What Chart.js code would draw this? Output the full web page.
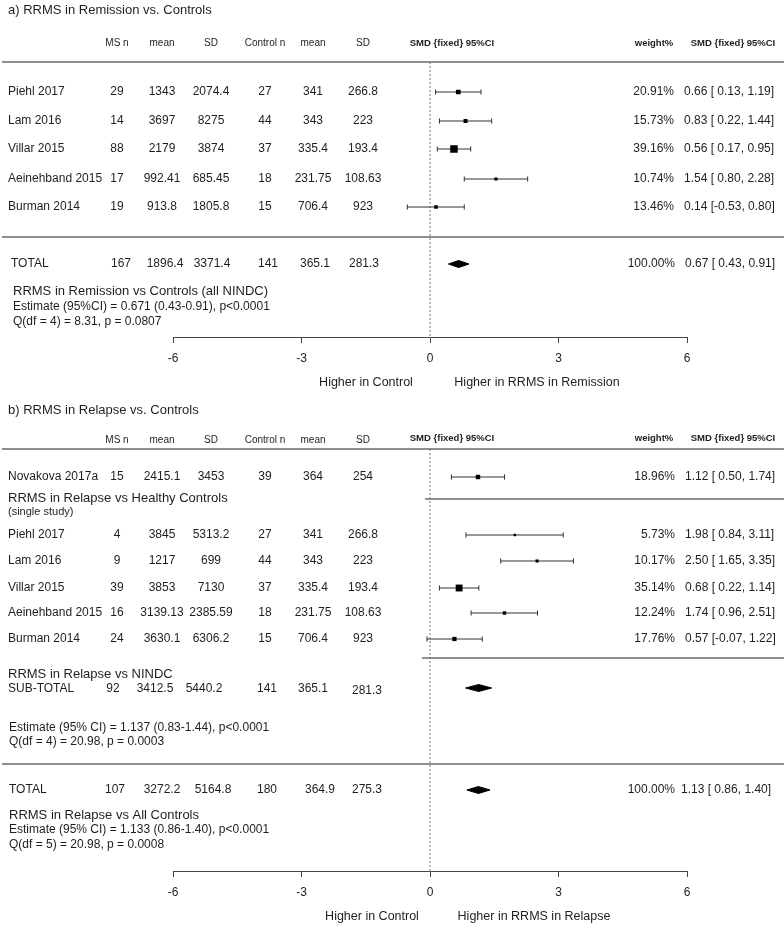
<!DOCTYPE html>
<html>
<head>
<meta charset="utf-8">
<script src="https://cdn.jsdelivr.net/npm/chart.js@4.4.1/dist/chart.umd.min.js"></script>
<style>
html,body{margin:0;padding:0;background:#fff;}
canvas{display:block;}
</style>
</head>
<body>
<canvas id="chartA" width="784" height="395"></canvas>
<canvas id="chartB" width="784" height="534"></canvas>
<script>
// ---------------- DATA ----------------
const tickValuesX = [-6, -3, 0, 3, 6];
const headersLeft = ['MS n', 'mean', 'SD', 'Control n', 'mean', 'SD'];
const headersRight = ['SMD {fixed} 95%CI', 'weight%', 'SMD {fixed} 95%CI'];

// Panel a
const titleA = 'a) RRMS in Remission vs. Controls';
const studiesA = ['Piehl 2017', 'Lam 2016', 'Villar 2015', 'Aeinehband 2015', 'Burman 2014'];
const msNA = [29, 14, 88, 17, 19];
const msMeanA = [1343, 3697, 2179, 992.41, 913.8];
const msSDA = [2074.4, 8275, 3874, 685.45, 1805.8];
const ctrlNA = [27, 44, 37, 18, 15];
const ctrlMeanA = [341, 343, 335.4, 231.75, 706.4];
const ctrlSDA = [266.8, 223, 193.4, 108.63, 923];
const smdA = [0.66, 0.83, 0.56, 1.54, 0.14];
const loA = [0.13, 0.22, 0.17, 0.80, -0.53];
const hiA = [1.19, 1.44, 0.95, 2.28, 0.80];
const weightA = [20.91, 15.73, 39.16, 10.74, 13.46];
const totalRowA = ['TOTAL', 167, 1896.4, 3371.4, 141, 365.1, 281.3];
const pooledA = [0.67, 0.43, 0.91];      // estimate, lower, upper
const pooledWeightA = 100;
const notesA = ['RRMS in Remission vs Controls (all NINDC)',
                'Estimate (95%CI) = 0.671 (0.43-0.91), p<0.0001',
                'Q(df = 4) = 8.31, p = 0.0807'];
const sideLabelsA = ['Higher in Control', 'Higher in RRMS in Remission'];

// Panel b
const titleB = 'b) RRMS in Relapse vs. Controls';
const studiesB = ['Novakova 2017a', 'Piehl 2017', 'Lam 2016', 'Villar 2015', 'Aeinehband 2015', 'Burman 2014'];
const msNB = [15, 4, 9, 39, 16, 24];
const msMeanB = [2415.1, 3845, 1217, 3853, 3139.13, 3630.1];
const msSDB = [3453, 5313.2, 699, 7130, 2385.59, 6306.2];
const ctrlNB = [39, 27, 44, 37, 18, 15];
const ctrlMeanB = [364, 341, 343, 335.4, 231.75, 706.4];
const ctrlSDB = [254, 266.8, 223, 193.4, 108.63, 923];
const smdB = [1.12, 1.98, 2.50, 0.68, 1.74, 0.57];
const loB = [0.50, 0.84, 1.65, 0.22, 0.96, -0.07];
const hiB = [1.74, 3.11, 3.35, 1.14, 2.51, 1.22];
const weightB = [18.96, 5.73, 10.17, 35.14, 12.24, 17.76];
const subgroupLabelsB = ['RRMS in Relapse vs Healthy Controls', '(single study)', 'RRMS in Relapse vs NINDC'];
const subTotalRowB = ['SUB-TOTAL', 92, 3412.5, 5440.2, 141, 365.1, 281.3];
const subPooledB = [1.137, 0.83, 1.44];
const subNotesB = ['Estimate (95% CI) = 1.137 (0.83-1.44), p<0.0001',
                   'Q(df = 4) = 20.98, p = 0.0003'];
const totalRowB = ['TOTAL', 107, 3272.2, 5164.8, 180, 364.9, 275.3];
const pooledB = [1.13, 0.86, 1.40];
const pooledWeightB = 100;
const notesB = ['RRMS in Relapse vs All Controls',
                'Estimate (95% CI) = 1.133 (0.86-1.40), p<0.0001',
                'Q(df = 5) = 20.98, p = 0.0008'];
const sideLabelsB = ['Higher in Control', 'Higher in RRMS in Relapse'];

// ---------------- STYLE / LAYOUT ----------------
const FONT = '"Liberation Sans", Arial, Helvetica, sans-serif';
const TXT = '#1e1e1e';
const RULE = '#6a6a6a';
const colX = [117, 162, 211, 265, 313, 363];
const markerSide = w => 1.6 + 0.15 * w;
const fmtCI = (e, l, h) => e.toFixed(2) + ' [' + (l < 0 ? '' : ' ') + l.toFixed(2) + ', ' + h.toFixed(2) + ']';
const fmtW = w => w.toFixed(2) + '%';

function textPlugin(texts, lines) {
  return {
    id: 'forestText',
    afterDraw(chart) {
      const ctx = chart.ctx;
      ctx.save();
      lines.forEach(l => {
        ctx.strokeStyle = l.color || RULE;
        ctx.lineWidth = l.w || 1.6;
        ctx.beginPath(); ctx.moveTo(l.x1, l.y); ctx.lineTo(l.x2, l.y); ctx.stroke();
      });
      texts.forEach(t => {
        ctx.font = (t.bold ? 'bold ' : '') + t.size + 'px ' + FONT;
        ctx.fillStyle = t.color || TXT;
        ctx.textAlign = t.align || 'left';
        ctx.textBaseline = 'middle';
        ctx.fillText(t.t, t.x, t.y);
      });
      ctx.restore();
    }
  };
}

function ciDataset(lo, hi, y) {
  return { type: 'line', data: [{x: lo, y: y}, {x: hi, y: y}],
    borderColor: '#333', borderWidth: 1, pointStyle: 'line', rotation: 90,
    pointRadius: 2.6, pointBorderColor: '#333', pointBorderWidth: 1, fill: false, order: 2 };
}
function diamondDataset(p, y, h) {
  return { type: 'line', data: [{x: p[1], y: y}, {x: p[0], y: y - h}, {x: p[2], y: y}, {x: p[0], y: y + h}, {x: p[1], y: y}],
    borderColor: '#000', backgroundColor: '#000', borderWidth: 1, pointRadius: 0, fill: 'shape', tension: 0, order: 1 };
}
function zeroDataset(top, bottom) {
  return { type: 'line', data: [{x: 0, y: top}, {x: 0, y: bottom}], borderColor: '#777', borderWidth: 1,
    borderDash: [2, 2], pointRadius: 0, fill: false, order: 3 };
}
function squaresDataset(smd, rows, weights) {
  return { type: 'scatter', data: smd.map((v, i) => ({x: v, y: rows[i]})), pointStyle: 'rect',
    pointRadius: c => markerSide(weights[c.dataIndex]) / Math.SQRT2,
    backgroundColor: '#000', borderColor: '#000', pointBorderWidth: 0, order: 0 };
}

function makeChart(id, H, axisY, datasets, texts, lines) {
  const chart = new Chart(document.getElementById(id), {
    type: 'scatter',
    data: { datasets },
    options: {
      responsive: false, animation: false, events: [],
      layout: { padding: { left: 173, right: 97, top: 0, bottom: 0 } },
      plugins: { legend: { display: false }, tooltip: { enabled: false } },
      scales: {
        x: { type: 'linear', min: -6, max: 6, position: 'bottom',
          afterBuildTicks: s => { s.ticks = tickValuesX.map(v => ({ value: v })); },
          afterFit: s => { s.height = H - axisY; },
          grid: { drawOnChartArea: false, drawTicks: true, tickLength: 6, color: '#444', lineWidth: 1 },
          border: { display: true, color: '#444', width: 1 },
          ticks: { color: TXT, font: { family: FONT, size: 12 }, padding: 8 } },
        y: { type: 'linear', display: false, reverse: true, min: 0, max: axisY }
      }
    },
    plugins: [textPlugin(texts, lines)]
  });
  // make the hidden row scale read in canvas pixels so marks line up with table rows
  chart.options.scales.y.min = chart.chartArea.top;
  chart.options.scales.y.max = chart.chartArea.bottom;
  chart.update();
  return chart;
}

// ---------------- PANEL A ----------------
(function () {
  const H = 395, axisY = 337;
  const rowY = [92, 121, 149, 179, 207];
  const totalY = 264, headY = 43;
  const texts = [{ t: titleA, x: 8, y: 10, size: 13 }];
  headersLeft.forEach((h, i) => texts.push({ t: h, x: colX[i], y: headY, size: 10, align: 'center' }));
  texts.push({ t: headersRight[0], x: 452, y: headY, size: 9.5, bold: true, align: 'center' });
  texts.push({ t: headersRight[1], x: 654, y: headY, size: 9.5, bold: true, align: 'center' });
  texts.push({ t: headersRight[2], x: 733, y: headY, size: 9.5, bold: true, align: 'center' });
  studiesA.forEach((s, i) => {
    const y = rowY[i];
    texts.push({ t: s, x: 8, y, size: 12 });
    [msNA[i], msMeanA[i], msSDA[i], ctrlNA[i], ctrlMeanA[i], ctrlSDA[i]].forEach((v, j) =>
      texts.push({ t: String(v), x: colX[j], y, size: 12, align: 'center' }));
    texts.push({ t: fmtW(weightA[i]), x: 674, y, size: 12, align: 'right' });
    texts.push({ t: fmtCI(smdA[i], loA[i], hiA[i]), x: 684, y, size: 12 });
  });
  const totX = [121, 165, 212, 268, 315, 364];
  texts.push({ t: totalRowA[0], x: 11, y: totalY, size: 12 });
  totalRowA.slice(1).forEach((v, j) => texts.push({ t: String(v), x: totX[j], y: totalY, size: 12, align: 'center' }));
  texts.push({ t: fmtW(pooledWeightA), x: 675, y: totalY, size: 12, align: 'right' });
  texts.push({ t: fmtCI(pooledA[0], pooledA[1], pooledA[2]), x: 685, y: totalY, size: 12 });
  texts.push({ t: notesA[0], x: 13, y: 291, size: 13 });
  texts.push({ t: notesA[1], x: 13, y: 307, size: 12 });
  texts.push({ t: notesA[2], x: 13, y: 322, size: 12 });
  texts.push({ t: sideLabelsA[0], x: 366, y: 383, size: 12.5, align: 'center' });
  texts.push({ t: sideLabelsA[1], x: 537, y: 383, size: 12.5, align: 'center' });
  const lines = [{ y: 62, x1: 2, x2: 784 }, { y: 237, x1: 2, x2: 784 }];
  const datasets = [zeroDataset(62, axisY)];
  smdA.forEach((v, i) => datasets.push(ciDataset(loA[i], hiA[i], rowY[i])));
  datasets.push(squaresDataset(smdA, rowY, weightA));
  datasets.push(diamondDataset(pooledA, totalY, 3.5));
  makeChart('chartA', H, axisY, datasets, texts, lines);
})();

// ---------------- PANEL B ----------------
(function () {
  const H = 534, axisY = 476;
  const rowY = [82, 140, 166, 193, 218, 244];
  const headY = 45, subY = 294, totalY = 395;
  const texts = [{ t: titleB, x: 8, y: 15, size: 13 }];
  headersLeft.forEach((h, i) => texts.push({ t: h, x: colX[i], y: headY, size: 10, align: 'center' }));
  texts.push({ t: headersRight[0], x: 452, y: headY - 2, size: 9.5, bold: true, align: 'center' });
  texts.push({ t: headersRight[1], x: 654, y: headY - 2, size: 9.5, bold: true, align: 'center' });
  texts.push({ t: headersRight[2], x: 733, y: headY - 2, size: 9.5, bold: true, align: 'center' });
  studiesB.forEach((s, i) => {
    const y = rowY[i];
    texts.push({ t: s, x: 8, y, size: 12 });
    [msNB[i], msMeanB[i], msSDB[i], ctrlNB[i], ctrlMeanB[i], ctrlSDB[i]].forEach((v, j) =>
      texts.push({ t: String(v), x: colX[j], y, size: 12, align: 'center' }));
    texts.push({ t: fmtW(weightB[i]), x: 675, y, size: 12, align: 'right' });
    texts.push({ t: fmtCI(smdB[i], loB[i], hiB[i]), x: 685, y, size: 12 });
  });
  texts.push({ t: subgroupLabelsB[0], x: 8, y: 103, size: 13 });
  texts.push({ t: subgroupLabelsB[1], x: 8, y: 117, size: 11 });
  texts.push({ t: subgroupLabelsB[2], x: 8, y: 279, size: 13 });
  const subX = [113, 155, 204, 267, 313, 367];
  texts.push({ t: subTotalRowB[0], x: 8, y: subY, size: 12 });
  subTotalRowB.slice(1).forEach((v, j) => texts.push({ t: String(v), x: subX[j], y: subY + (j === 5 ? 2 : 0), size: 12, align: 'center' }));
  texts.push({ t: subNotesB[0], x: 9, y: 333, size: 12 });
  texts.push({ t: subNotesB[1], x: 9, y: 347, size: 12 });
  const totX = [115, 162, 213, 267, 320, 367];
  texts.push({ t: totalRowB[0], x: 9, y: totalY, size: 12 });
  totalRowB.slice(1).forEach((v, j) => texts.push({ t: String(v), x: totX[j], y: totalY, size: 12, align: 'center' }));
  texts.push({ t: fmtW(pooledWeightB), x: 675, y: totalY, size: 12, align: 'right' });
  texts.push({ t: fmtCI(pooledB[0], pooledB[1], pooledB[2]), x: 681, y: totalY, size: 12 });
  texts.push({ t: notesB[0], x: 9, y: 420, size: 13 });
  texts.push({ t: notesB[1], x: 9, y: 435, size: 12 });
  texts.push({ t: notesB[2], x: 9, y: 450, size: 12 });
  texts.push({ t: sideLabelsB[0], x: 372, y: 522, size: 12.5, align: 'center' });
  texts.push({ t: sideLabelsB[1], x: 534, y: 522, size: 12.5, align: 'center' });
  const lines = [{ y: 54, x1: 2, x2: 784 }, { y: 104, x1: 425, x2: 784 },
                 { y: 263, x1: 422, x2: 784 }, { y: 369, x1: 2, x2: 784 }];
  const datasets = [zeroDataset(54, axisY)];
  smdB.forEach((v, i) => datasets.push(ciDataset(loB[i], hiB[i], rowY[i])));
  datasets.push(squaresDataset(smdB, rowY, weightB));
  datasets.push(diamondDataset(subPooledB, subY - 1, 3.5));
  datasets.push(diamondDataset(pooledB, totalY, 3.5));
  makeChart('chartB', H, axisY, datasets, texts, lines);
})();
</script>
</body>
</html>
